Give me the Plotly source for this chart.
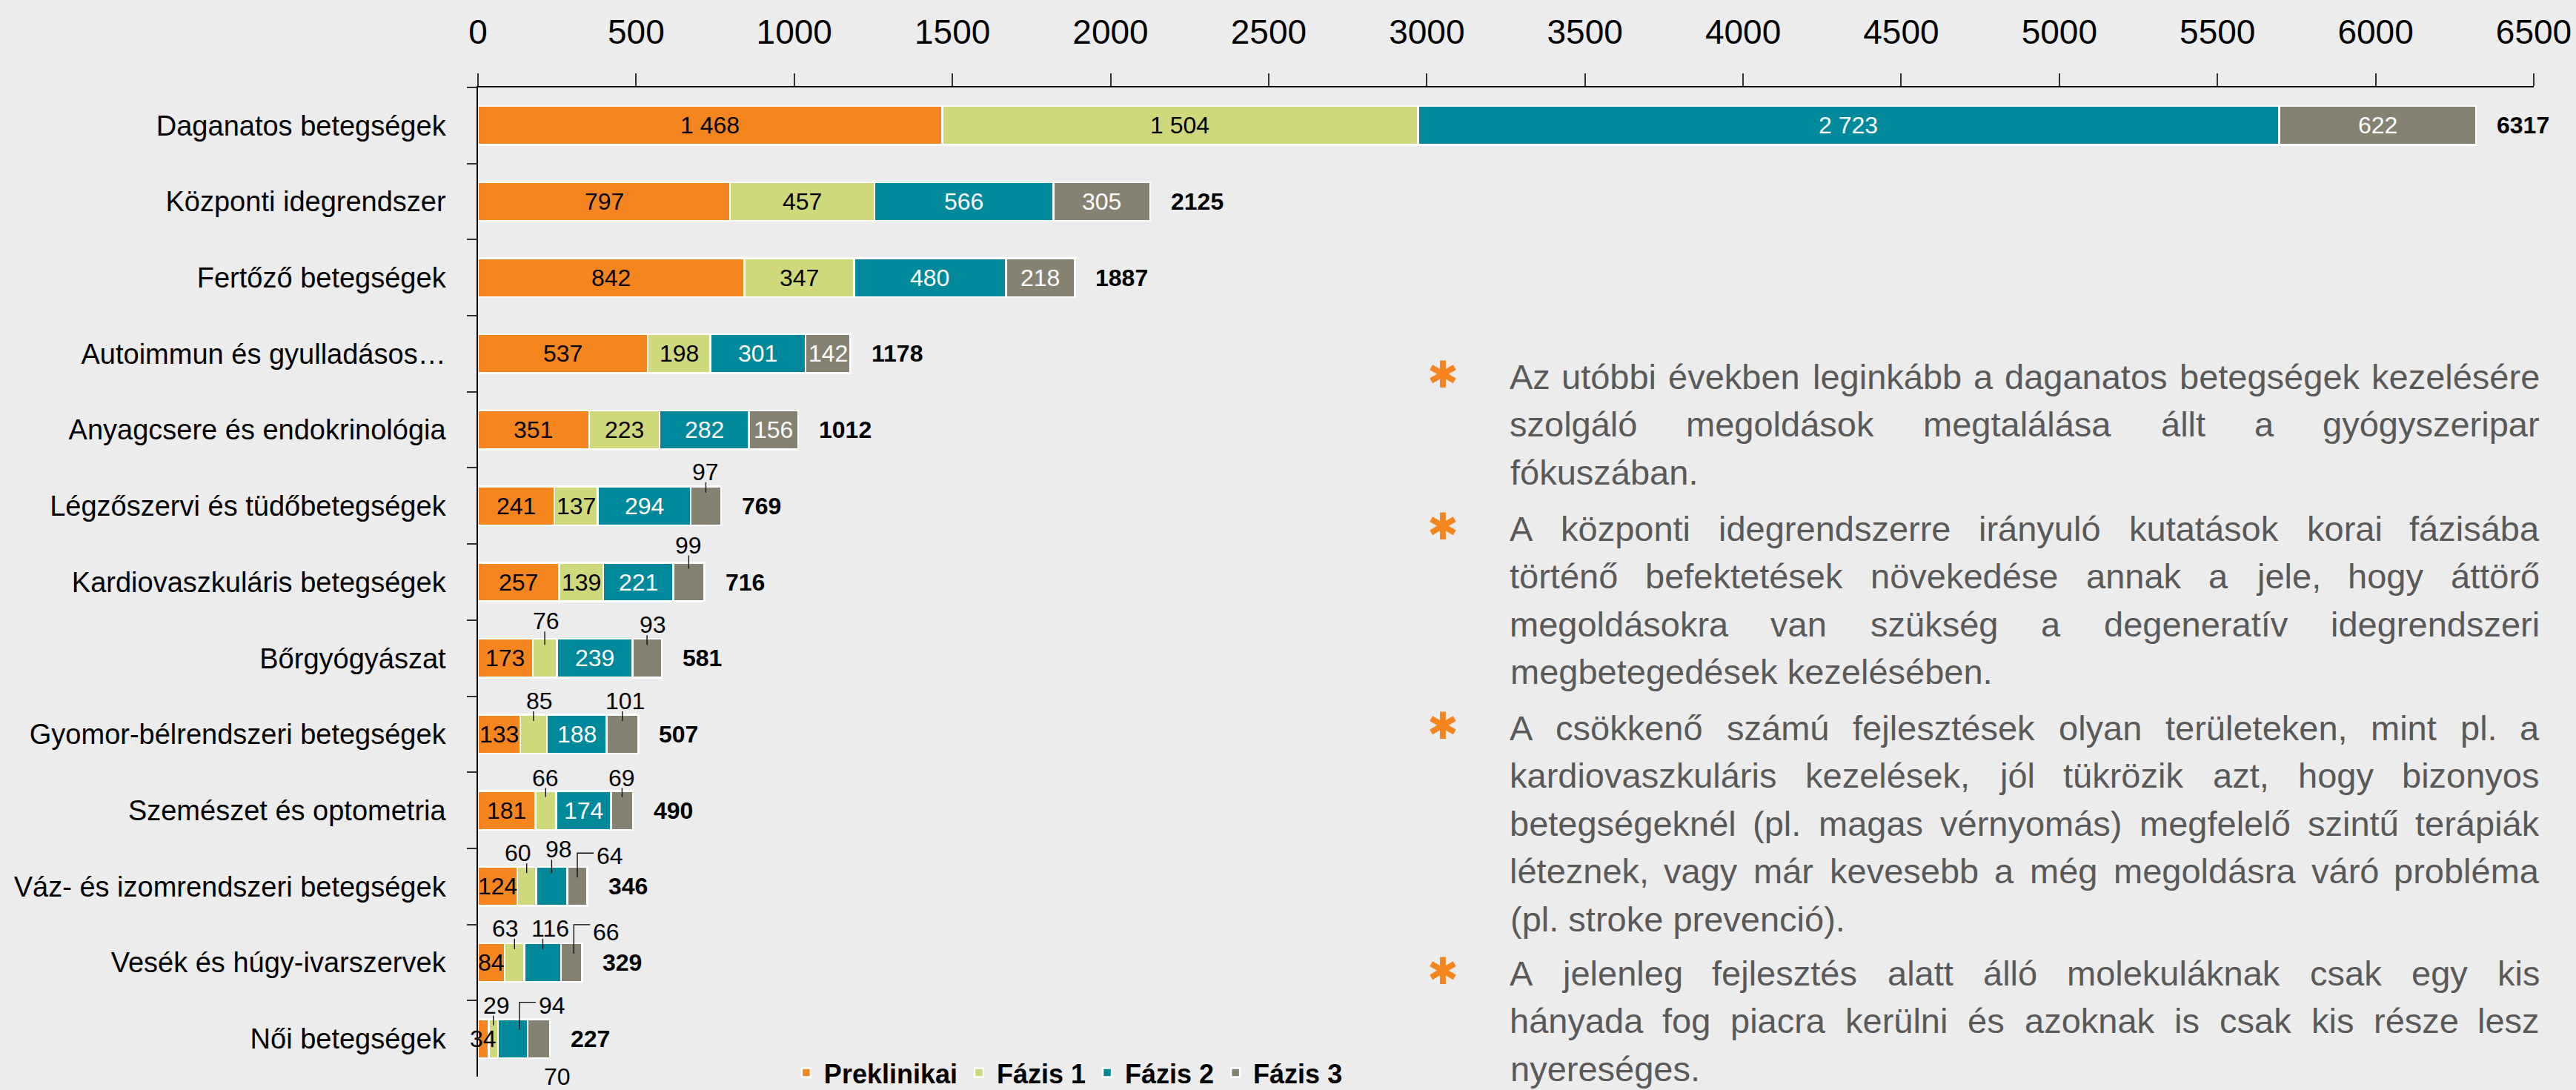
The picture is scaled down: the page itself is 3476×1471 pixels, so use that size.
import plotly.graph_objects as go

# ---------------- data ----------------
categories = [
    "Daganatos betegségek",
    "Központi idegrendszer",
    "Fertőző betegségek",
    "Autoimmun és gyulladásos…",
    "Anyagcsere és endokrinológia",
    "Légzőszervi és tüdőbetegségek",
    "Kardiovaszkuláris betegségek",
    "Bőrgyógyászat",
    "Gyomor-bélrendszeri betegségek",
    "Szemészet és optometria",
    "Váz- és izomrendszeri betegségek",
    "Vesék és húgy-ivarszervek",
    "Női betegségek",
]
series_names = ["Preklinikai", "Fázis 1", "Fázis 2", "Fázis 3"]
preklinikai = [1468, 797, 842, 537, 351, 241, 257, 173, 133, 181, 124, 84, 34]
fazis_1 = [1504, 457, 347, 198, 223, 137, 139, 76, 85, 66, 60, 63, 29]
fazis_2 = [2723, 566, 480, 301, 282, 294, 221, 239, 188, 174, 98, 116, 94]
fazis_3 = [622, 305, 218, 142, 156, 97, 99, 93, 101, 69, 64, 66, 70]
totals = [6317, 2125, 1887, 1178, 1012, 769, 716, 581, 507, 490, 346, 329, 227]
x_tick_values = list(range(0, 6501, 500))

bullet_paragraphs = [
    [
        "Az utóbbi években leginkább a daganatos betegségek kezelésére",
        "szolgáló megoldások megtalálása állt a gyógyszeripar",
        "fókuszában.",
    ],
    [
        "A központi idegrendszerre irányuló kutatások korai fázisába",
        "történő befektetések növekedése annak a jele, hogy áttörő",
        "megoldásokra van szükség a degeneratív idegrendszeri",
        "megbetegedések kezelésében.",
    ],
    [
        "A csökkenő számú fejlesztések olyan területeken, mint pl. a",
        "kardiovaszkuláris kezelések, jól tükrözik azt, hogy bizonyos",
        "betegségeknél (pl. magas vérnyomás) megfelelő szintű terápiák",
        "léteznek, vagy már kevesebb a még megoldásra váró probléma",
        "(pl. stroke prevenció).",
    ],
    [
        "A jelenleg fejlesztés alatt álló molekuláknak csak egy kis",
        "hányada fog piacra kerülni és azoknak is csak kis része lesz",
        "nyereséges.",
    ],
]

# ---------------- style ----------------
FONT = "Liberation Sans"
colors = ["#F5851F", "#CFD87A", "#00899B", "#868272"]
label_colors = ["#000000", "#000000", "#FFFFFF", "#FFFFFF"]
BG = "#ECECEC"
W, H = 3476, 1471
ML, MR, MT, MB = 645, 57, 118, 18
PW, PH = W - ML - MR, H - MT - MB

# outside labels: (row, series) -> spec  (pixel offsets)
outside_labels = {
    (5, 3): ("above", 0, 46),
    (6, 3): ("above", 0, 50),
    (7, 1): ("above", 2, 50),
    (7, 3): ("above", 8, 45),
    (8, 1): ("above", 8, 45),
    (8, 3): ("above", 4, 45),
    (9, 1): ("above", 0, 44),
    (9, 3): ("above", 0, 44),
    (10, 1): ("above", -12, 45),
    (10, 2): ("above", 10, 50),
    (10, 3): ("elbow", 0, 45, 41),
    (11, 1): ("above", -12, 46),
    (11, 2): ("above", 10, 46),
    (11, 3): ("elbow", 3, 51, 41),
    (12, 1): ("above", 4, 45),
    (12, 2): ("elbow", 9, 49, 45),
    (12, 3): ("below", 25, -51),
}

series = [preklinikai, fazis_1, fazis_2, fazis_3]

fig = go.Figure()
for name, vals, col in zip(series_names, series, colors):
    fig.add_trace(go.Bar(
        y=categories, x=vals, name=name, orientation="h",
        marker=dict(color=col, line=dict(color="white", width=2.5)),
        hoverinfo="skip",
    ))


def fmt(v):
    return f"{v:,}".replace(",", " ")


annotations = []
shapes = []
for r, cat in enumerate(categories):
    left = 0
    for s, vals in enumerate(series):
        v = vals[r]
        xc = left + v / 2
        spec = outside_labels.get((r, s))
        base = dict(xref="x", yref="y", showarrow=False,
                    font=dict(family=FONT, size=32, color="#000000"))
        if spec is None:
            annotations.append(dict(base, x=xc, y=r, text=fmt(v), xanchor="center",
                                    yanchor="middle",
                                    font=dict(family=FONT, size=32, color=label_colors[s])))
        elif spec[0] in ("above", "below"):
            _, dx, dy = spec
            annotations.append(dict(base, x=xc, y=r, text=fmt(v), xanchor="center",
                                    yanchor="middle", xshift=dx, yshift=dy))
            if spec[0] == "above":
                shapes.append(dict(type="path", xref="x", yref="y",
                                   xsizemode="pixel", ysizemode="pixel",
                                   xanchor=xc, yanchor=r,
                                   path=f"M 0,18 L 0,{dy - 14}",
                                   line=dict(color="#000000", width=1.3)))
        else:
            _, vx, top, ldy = spec
            annotations.append(dict(base, x=xc, y=r, text=fmt(v), xanchor="left",
                                    yanchor="middle", xshift=vx + 24, yshift=ldy))
            shapes.append(dict(type="path", xref="x", yref="y",
                               xsizemode="pixel", ysizemode="pixel",
                               xanchor=xc, yanchor=r,
                               path=f"M {vx},12 L {vx},{top} L {vx + 22},{top}",
                               line=dict(color="#000000", width=1.3)))
        left += v
    annotations.append(dict(x=totals[r], y=r, xref="x", yref="y", text=str(totals[r]),
                            showarrow=False, xanchor="left", yanchor="middle", xshift=26,
                            font=dict(family=FONT, size=32, color="#000000", weight="bold")))

# ---------------- justified text block ----------------
ARIAL = {" ": 278, ",": 278, ".": 278, "(": 333, ")": 333, "-": 333,
         "A": 667, "a": 556, "b": 556, "c": 500, "d": 556, "e": 556, "f": 278,
         "g": 556, "h": 556, "i": 222, "j": 222, "k": 500, "l": 222, "m": 833,
         "n": 556, "o": 556, "p": 556, "q": 556, "r": 333, "s": 500, "t": 278,
         "u": 556, "v": 500, "w": 722, "x": 500, "y": 500, "z": 500,
         "á": 556, "é": 556, "í": 278, "ó": 556, "ö": 556, "ő": 556,
         "ú": 556, "ü": 556, "ű": 556}


def em(s):
    return sum(ARIAL.get(ch, 556) for ch in s) / 1000.0


TX0, TX1 = 2036, 3428
TW = TX1 - TX0
TSIZE = 47
para_start = [508, 713, 982, 1313]
PITCH = 64.6
TCOLOR = "#595959"


def px_x(px):
    return (px - ML) / PW


def px_y(py):
    return (H - MB - py) / PH


for p, lines in enumerate(bullet_paragraphs):
    y0 = para_start[p]
    annotations.append(dict(xref="paper", yref="paper", x=px_x(1947), y=px_y(y0 - 2),
                            text="✱", showarrow=False, xanchor="center", yanchor="middle",
                            font=dict(family="DejaVu Sans", size=50, color="#F5851F")))
    for i, line in enumerate(lines):
        py = y0 + i * PITCH
        tfont = dict(family=FONT, size=TSIZE, color=TCOLOR)
        if i == len(lines) - 1:
            annotations.append(dict(xref="paper", yref="paper", x=px_x(TX0), y=px_y(py),
                                    text=line, showarrow=False, xanchor="left",
                                    yanchor="middle", font=tfont))
            continue
        words = line.split(" ")
        widths = [em(w) * TSIZE for w in words]
        gap = (TW - sum(widths)) / (len(words) - 1)
        pos = TX0
        for k, (wd, ww) in enumerate(zip(words, widths)):
            if k == 0:
                x, anc = pos, "left"
            elif k == len(words) - 1:
                x, anc = TX1, "right"
            else:
                x, anc = pos + ww / 2, "center"
            annotations.append(dict(xref="paper", yref="paper", x=px_x(x), y=px_y(py),
                                    text=wd, showarrow=False, xanchor=anc,
                                    yanchor="middle", font=tfont, borderpad=0))
            pos += ww + gap

fig.update_layout(
    width=W, height=H,
    margin=dict(l=ML, r=MR, t=MT, b=MB, pad=0, autoexpand=False),
    paper_bgcolor=BG, plot_bgcolor=BG,
    barmode="stack", bargap=0.49,
    font=dict(family=FONT, color="#000000"),
    showlegend=True,
    legend=dict(orientation="h", x=0.151, xanchor="left", y=0.004, yanchor="middle",
                font=dict(family=FONT, size=36, color="#000000", weight="bold"),
                bgcolor="rgba(0,0,0,0)", itemwidth=38, traceorder="normal"),
    xaxis=dict(side="top", range=[0, 6500], tickvals=x_tick_values,
               ticks="outside", ticklen=17, tickwidth=1.5, tickcolor="#333333",
               showline=True, linecolor="#000000", linewidth=2,
               showgrid=False, zeroline=False, automargin=False,
               tickfont=dict(family=FONT, size=46, color="#000000"),
               ticklabelstandoff=22, fixedrange=True),
    yaxis=dict(type="category", categoryorder="array", categoryarray=categories,
               range=[12.5, -0.5], tickson="boundaries",
               ticks="outside", ticklen=13, tickwidth=1.5, tickcolor="#333333",
               showline=True, linecolor="#000000", linewidth=1.5,
               showgrid=False, zeroline=False, automargin=False,
               tickfont=dict(family=FONT, size=38, color="#000000"),
               ticklabelstandoff=34, fixedrange=True),
    annotations=annotations,
    shapes=shapes,
)

fig.write_html(
    "out.html",
    config={"displayModeBar": False},
    post_script="document.body.style.margin='0';document.body.style.overflow='hidden';",
)
